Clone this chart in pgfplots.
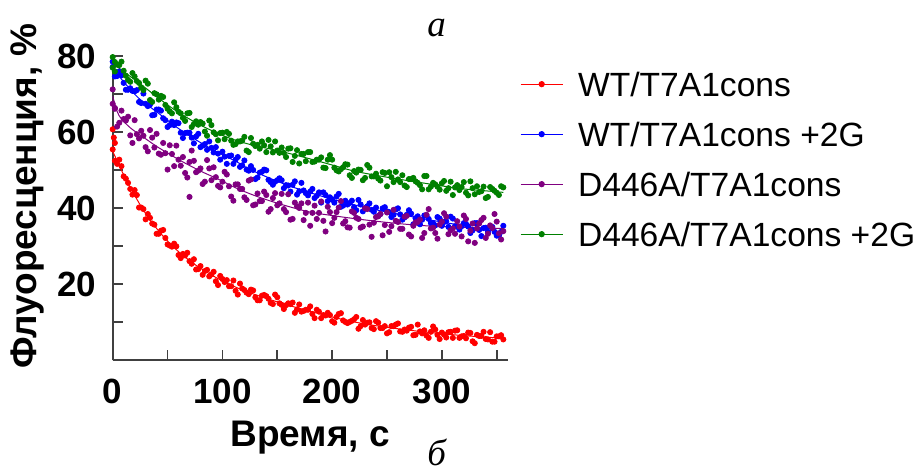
\documentclass[border=0pt]{standalone}
\usepackage{fontspec}
\setmainfont{Liberation Sans}
\newfontfamily\serifit{Liberation Serif}
\usepackage{pgfplots}
\pgfplotsset{compat=1.18}
\definecolor{cred}{RGB}{255,0,0}
\definecolor{cblue}{RGB}{0,0,255}
\definecolor{cpurple}{RGB}{128,0,128}
\definecolor{cgreen}{RGB}{0,128,0}

\begin{document}
\begin{tikzpicture}
\path[use as bounding box] (-56.35pt,-55.85pt) rectangle (403.65pt,180.15pt);
\begin{axis}[
    at={(0pt,0pt)}, anchor=south west,
    scale only axis,
    width=197.5pt, height=152pt,
    xmin=0, xmax=360, ymin=0, ymax=80,
    clip=false,
    axis lines=left,
    axis line style={-, line width=0.9pt, black!75},
    tick align=inside,
    major tick length=5pt,
    tick style={line width=0.9pt, black!75},
    xtick={0,50,...,350}, xticklabels={0,,100,,200,,300,},
    ytick={10,20,...,80}, yticklabels={,20,,40,,60,,80},
    /pgf/number format/assume math mode=true,
    tick label style={font=\bfseries\fontsize{17.5}{20}\selectfont, inner sep=0pt},
    xticklabel style={anchor=north, yshift=-9pt},
    yticklabel style={anchor=east, xshift=-8pt},
    xlabel={Время, с},
    ylabel={Флуоресценция, \%},
    label style={font=\bfseries\fontsize{18.5}{21}\selectfont},
    xlabel style={at={(axis description cs:0.5,-0.284)}, anchor=base},
    ylabel style={at={(axis description cs:-0.217,0.54)}, anchor=center},
    legend style={draw=none, fill=none, inner sep=0pt,
        at={(axis description cs:1.0304,0.969)}, anchor=north west,
        font=\fontsize{16.8}{20}\selectfont, row sep=7pt, column sep=4.4pt,
        nodes={text height=12pt, text depth=0pt, inner sep=3pt}},
    legend cell align=left,
    legend image code/.code={
        \draw[#1, line width=0.6pt] (0pt,0pt) -- (21pt,0pt);
        \fill[#1] (10.5pt,0pt) circle (1.3pt);},
    scatter/.style={only marks, mark=*, mark size=1.3pt, forget plot},
    fit/.style={smooth, line width=0.5pt, mark=none},
]

% measured points, WT/T7A1cons
\addplot[scatter, cred, mark options={fill=cred, draw=cred}] coordinates {
(0,60.8) (1,58.6) (2,57.2)
(0,55.5) (4,51.7) (8,51.1) (12,47.8) (16,45.1) (20,44.8) (24,40.2) (28,39.8) (32,38.5) (36,36.0)
(40,33.3) (44,34.1) (48,32.2) (52,30.2) (56,30.7) (60,27.7) (64,28.0) (68,28.3) (72,25.4) (76,23.9)
(80,24.8) (84,23.5) (88,22.1) (92,23.3) (96,19.8) (100,21.4) (104,21.1) (108,19.5) (112,18.3) (116,20.2)
(120,18.5) (124,17.4) (128,18.4) (132,15.8) (136,17.0) (140,16.9) (144,15.1) (148,17.3) (152,15.0) (156,13.5)
(160,15.0) (164,15.2) (168,13.4) (172,12.8) (176,13.3) (180,14.2) (184,11.1) (188,12.8) (192,11.9) (196,12.5)
(200,10.3) (204,11.4) (208,12.4) (212,10.1) (216,10.1) (220,10.8) (224,8.3) (228,10.6) (232,9.9) (236,8.5)
(240,10.3) (244,8.5) (248,9.0) (252,7.4) (256,9.0) (260,9.7) (264,7.5) (268,7.8) (272,8.8) (276,6.7)
(280,7.6) (284,7.9) (288,5.9) (292,8.9) (296,6.7) (300,7.3) (304,6.0) (308,7.5) (312,7.8) (316,5.9)
(320,6.4) (324,7.3) (328,5.0) (332,6.7) (336,6.4) (340,5.6) (344,7.4) (348,4.9) (352,6.3) (356,5.5)
(2,52.5) (6,52.8) (10,48.4) (14,46.7) (18,43.6) (22,43.5) (26,40.2) (30,37.1) (34,37.5) (38,35.7)
(42,33.3) (46,34.3) (50,30.5) (54,29.9) (58,30.0) (62,26.9) (66,27.6) (70,26.1) (74,26.6) (78,24.0)
(82,22.5) (86,23.8) (90,22.6) (94,20.8) (98,22.2) (102,20.6) (106,19.5) (110,21.0) (114,17.3) (118,18.9)
(122,17.8) (126,18.6) (130,16.6) (134,15.8) (138,17.2) (142,16.2) (146,14.8) (150,16.6) (154,14.6) (158,14.5)
(162,14.8) (166,12.5) (170,14.7) (174,13.0) (178,13.3) (182,12.2) (186,13.3) (190,11.1) (194,11.8) (198,11.9)
(202,9.9) (206,12.2) (210,10.5) (214,9.8) (218,10.4) (222,11.4) (226,9.0) (230,9.4) (234,10.0) (238,8.2)
(242,9.9) (246,8.5) (250,7.1) (254,9.0) (258,9.4) (262,7.6) (266,8.1) (270,8.6) (274,6.6) (278,9.4)
(282,7.1) (286,6.5) (290,7.5) (294,8.1) (298,5.6) (302,6.8) (306,7.4) (310,5.9) (314,7.9) (318,6.3)
(322,5.8) (326,7.2) (330,4.5) (334,6.4) (338,7.5) (342,5.5) (346,4.9) (350,6.3) (354,6.6)
};
% WT/T7A1cons +2G
\addplot[scatter, cblue, mark options={fill=cblue, draw=cblue}] coordinates {
(0,78.6)
(0,77.2) (4,74.8) (8,75.0) (12,71.2) (16,71.6) (20,70.8) (24,68.0) (28,70.2) (32,66.9) (36,64.5)
(40,66.0) (44,65.7) (48,63.2) (52,61.9) (56,61.9) (60,62.4) (64,58.5) (68,59.9) (72,58.6) (76,58.9)
(80,56.1) (84,56.9) (88,57.6) (92,54.7) (96,54.4) (100,54.9) (104,51.7) (108,53.9) (112,52.8) (116,50.9)
(120,52.6) (124,49.9) (128,50.1) (132,48.1) (136,49.6) (140,50.0) (144,46.9) (148,47.0) (152,47.9) (156,45.3)
(160,46.0) (164,46.2) (168,43.6) (172,46.7) (176,44.0) (180,44.4) (184,42.7) (188,44.2) (192,44.2) (196,41.9)
(200,42.3) (204,43.1) (208,40.4) (212,42.0) (216,41.4) (220,40.3) (224,42.2) (228,39.2) (232,40.5) (236,39.6)
(240,40.2) (244,38.5) (248,40.3) (252,39.0) (256,38.3) (260,40.0) (264,37.0) (268,38.3) (272,38.6) (276,37.4)
(280,35.8) (284,38.1) (288,37.2) (292,36.1) (296,37.7) (300,35.4) (304,36.6) (308,37.8) (312,35.3) (316,34.4)
(320,36.1) (324,35.2) (328,34.2) (332,36.1) (336,32.7) (340,34.9) (344,35.2) (348,33.8) (352,32.8) (356,35.4)
(2,74.7) (6,76.0) (10,73.0) (14,71.2) (18,70.9) (22,71.1) (26,67.7) (30,67.5) (34,67.3) (38,64.6)
(42,66.0) (46,63.7) (50,61.4) (54,62.8) (58,62.6) (62,59.9) (66,59.8) (70,59.9) (74,57.1) (78,59.6)
(82,56.5) (86,55.4) (90,55.9) (94,56.1) (98,52.8) (102,53.6) (106,53.8) (110,51.7) (114,53.5) (118,51.3)
(122,50.2) (126,51.1) (130,47.7) (134,49.4) (138,50.2) (142,47.5) (146,46.2) (150,47.4) (154,47.4) (158,46.1)
(162,44.4) (166,47.1) (170,44.5) (174,44.7) (178,43.4) (182,45.1) (186,43.3) (190,41.5) (194,43.5) (198,42.9)
(202,41.5) (206,43.8) (210,40.7) (214,41.0) (218,42.0) (222,39.5) (226,41.0) (230,40.1) (234,41.3) (238,39.1)
(242,38.0) (246,40.0) (250,39.2) (254,37.7) (258,39.7) (262,38.4) (266,37.6) (270,39.5) (274,35.8) (278,37.9)
(282,37.0) (286,38.1) (290,36.1) (294,35.5) (298,37.3) (302,36.4) (306,35.1) (310,37.3) (314,35.2) (318,35.3)
(322,35.9) (326,33.5) (330,36.1) (334,34.3) (338,34.8) (342,33.8) (346,35.1) (350,32.8) (354,33.8)
};
% D446A/T7A1cons
\addplot[scatter, cpurple, mark options={fill=cpurple, draw=cpurple}] coordinates {
(0,67.5) (2,66.2) (70,43.0)
(0,71.3) (4,61.5) (8,65.7) (12,63.1) (16,59.2) (20,63.2) (24,58.4) (28,59.1) (32,55.0) (36,58.6)
(40,59.6) (44,54.1) (48,54.5) (52,56.6) (56,51.1) (60,52.8) (64,53.5) (68,48.1) (72,55.2) (76,49.5)
(80,50.5) (84,47.0) (88,50.5) (92,50.8) (96,45.9) (100,47.0) (104,48.9) (108,43.1) (112,46.3) (116,45.1)
(120,42.9) (124,47.3) (128,40.8) (132,43.9) (136,41.9) (140,43.5) (144,39.8) (148,44.0) (152,41.3) (156,39.8)
(160,43.7) (164,37.2) (168,40.5) (172,41.3) (176,38.8) (180,35.4) (184,40.7) (188,38.8) (192,36.7) (196,40.4)
(200,36.1) (204,39.0) (208,41.9) (212,36.6) (216,34.9) (220,38.8) (224,37.2) (228,35.2) (232,39.8) (236,32.5)
(240,37.7) (244,38.5) (248,35.6) (252,33.8) (256,39.6) (260,36.4) (264,34.6) (268,38.0) (272,32.6) (276,36.3)
(280,37.0) (284,33.5) (288,39.8) (292,34.9) (296,32.0) (300,36.5) (304,37.8) (308,34.2) (312,33.3) (316,35.2)
(320,38.1) (324,31.3) (328,36.0) (332,34.7) (336,36.9) (340,32.2) (344,35.5) (348,38.5) (352,33.4) (356,34.0)
(2,66.4) (6,62.5) (10,63.5) (14,64.1) (18,57.2) (22,59.5) (26,60.4) (30,56.1) (34,60.6) (38,56.0)
(42,54.4) (46,57.2) (50,50.2) (54,54.3) (58,56.5) (62,51.2) (66,49.3) (70,52.2) (74,52.5) (78,49.9)
(82,46.4) (86,52.7) (90,47.4) (94,48.2) (98,45.5) (102,49.6) (106,45.8) (110,42.0) (114,46.3) (118,45.1)
(122,42.2) (126,47.6) (130,41.0) (134,41.9) (138,44.4) (142,39.1) (146,42.7) (150,40.8) (154,43.8) (158,39.0)
(162,37.0) (166,41.5) (170,40.1) (174,36.9) (178,41.5) (182,38.8) (186,37.2) (190,41.8) (194,33.9) (198,39.0)
(202,37.5) (206,40.2) (210,36.0) (214,35.0) (218,39.2) (222,37.5) (226,34.9) (230,40.0) (234,35.7) (238,36.2)
(242,37.9) (246,32.9) (250,38.9) (254,35.3) (258,36.7) (262,34.6) (266,37.8) (270,33.1) (274,35.4) (278,36.4)
(282,32.2) (286,38.3) (290,34.7) (294,33.5) (298,35.7) (302,38.7) (306,33.2) (310,34.7) (314,36.6) (318,32.6)
(322,37.2) (326,34.1) (330,30.9) (334,36.0) (338,37.5) (342,33.3) (346,34.8) (350,36.5) (354,31.8)
};
% D446A/T7A1cons +2G
\addplot[scatter, cgreen, mark options={fill=cgreen, draw=cgreen}] coordinates {
(0,79.8) (2,78.5)
(0,77.0) (4,77.8) (8,78.6) (12,74.9) (16,73.3) (20,74.7) (24,73.0) (28,71.1) (32,72.8) (36,68.0)
(40,70.0) (44,69.6) (48,67.2) (52,65.5) (56,67.9) (60,65.4) (64,63.8) (68,65.0) (72,61.4) (76,62.9)
(80,62.7) (84,60.2) (88,63.1) (92,60.0) (96,57.9) (100,59.9) (104,60.1) (108,57.8) (112,56.9) (116,57.6)
(120,58.8) (124,54.8) (128,57.0) (132,56.7) (136,57.6) (140,54.8) (144,56.3) (148,57.6) (152,54.6) (156,54.6)
(160,55.7) (164,52.2) (168,55.3) (172,54.3) (176,52.4) (180,54.8) (184,52.3) (188,52.8) (192,50.7) (196,52.8)
(200,52.8) (204,50.0) (208,50.3) (212,51.6) (216,48.7) (220,49.8) (224,50.2) (228,47.4) (232,51.4) (236,48.4)
(240,49.1) (244,47.3) (248,49.3) (252,49.5) (256,46.9) (260,47.6) (264,48.7) (268,45.6) (272,47.7) (276,47.1)
(280,46.1) (284,48.5) (288,45.0) (292,46.7) (296,45.7) (300,46.6) (304,44.6) (308,47.0) (312,45.5) (316,44.8)
(320,46.9) (324,43.4) (328,45.3) (332,45.8) (336,44.5) (340,42.7) (344,45.6) (348,44.6) (352,43.5) (356,45.5)
(2,76.0) (6,77.7) (10,76.2) (14,73.8) (18,75.6) (22,73.5) (26,71.8) (30,73.6) (34,68.5) (38,70.3)
(42,68.6) (46,69.3) (50,66.2) (54,65.0) (58,66.6) (62,65.0) (66,63.0) (70,65.1) (74,62.2) (78,62.0)
(82,62.3) (86,59.1) (90,61.9) (94,59.5) (98,59.8) (102,58.2) (106,59.6) (110,56.7) (114,57.6) (118,57.8)
(122,55.2) (126,58.5) (130,56.4) (134,55.7) (138,56.6) (142,58.0) (146,54.7) (150,55.2) (154,56.0) (158,53.5)
(162,55.8) (166,53.8) (170,51.8) (174,54.3) (178,54.8) (182,52.2) (186,52.8) (190,53.4) (194,50.6) (198,54.0)
(202,50.7) (206,49.7) (210,50.8) (214,51.5) (218,48.0) (222,49.4) (226,50.1) (230,48.0) (234,50.7) (238,48.4)
(242,47.8) (246,49.5) (250,45.8) (254,48.2) (258,49.6) (262,46.9) (266,46.0) (270,47.7) (274,48.0) (278,46.7)
(282,45.0) (286,48.5) (290,45.7) (294,46.3) (298,44.9) (302,47.2) (306,45.3) (310,43.5) (314,46.1) (318,45.6)
(322,44.1) (326,47.1) (330,43.7) (334,44.3) (338,45.7) (342,43.0) (346,45.1) (350,44.1) (354,45.8)
};

% fitted curves
\addplot[fit, cred] coordinates {
(0,55) (4,52.5) (8,50) (12,47.7) (16,45.5) (20,43.4) (28,39.5) (36,36.2) (44,33.3) (52,30.8) (60,28.6)
(72,25.8) (84,23.5) (96,21.5) (108,19.8) (120,18.3) (140,16.3) (160,14.5) (180,12.9) (200,11.4) (220,10.1)
(240,9.1) (260,8.3) (280,7.6) (300,7.0) (320,6.5) (340,6.1) (356,5.8)
};
\addlegendentry{WT/T7A1cons}
\addplot[fit, cblue] coordinates {
(0,77) (8,74) (16,71.3) (24,68.9) (32,67.1) (40,65.4) (52,62.7) (64,60.2) (80,57.3) (96,54.7) (112,52.4)
(124,50.4) (140,48.3) (160,46.0) (180,44.1) (200,42.4) (220,40.9) (240,39.6) (260,38.5) (280,37.4)
(300,36.4) (320,35.4) (340,34.4) (356,33.8)
};
\addlegendentry{WT/T7A1cons +2G}
\addplot[fit, cpurple] coordinates {
(0,69.5) (4,65.5) (8,63.5) (16,61.2) (24,59.5) (32,57.9) (40,56.3) (52,54.2) (64,52.2) (80,49.8) (96,47.7)
(112,45.4) (128,43.5) (144,41.9) (160,40.5) (180,39.0) (200,38.1) (220,37.3) (240,36.6) (260,36.0)
(280,35.5) (300,35.2) (320,35.0) (340,34.8) (356,34.7)
};
\addlegendentry{D446A/T7A1cons}
\addplot[fit, cgreen] coordinates {
(0,78.2) (8,76.4) (16,74.7) (24,73.0) (32,71.2) (40,69.4) (52,66.8) (64,64.5) (80,61.9) (96,59.7) (112,57.9)
(128,56.6) (144,55.6) (160,54.5) (180,53.0) (200,51.4) (220,49.8) (240,48.7) (260,47.7) (280,46.8)
(300,45.9) (320,45.1) (340,44.6) (356,44.2)
};
\addlegendentry{D446A/T7A1cons +2G}
\end{axis}
\node[anchor=base, font=\serifit\itshape\fontsize{18.5}{20}\selectfont] at (162pt,161.8pt) {а};
\node[anchor=base, font=\serifit\itshape\fontsize{18.5}{20}\selectfont] at (162pt,-52.6pt) {б};
\end{tikzpicture}
\end{document}
